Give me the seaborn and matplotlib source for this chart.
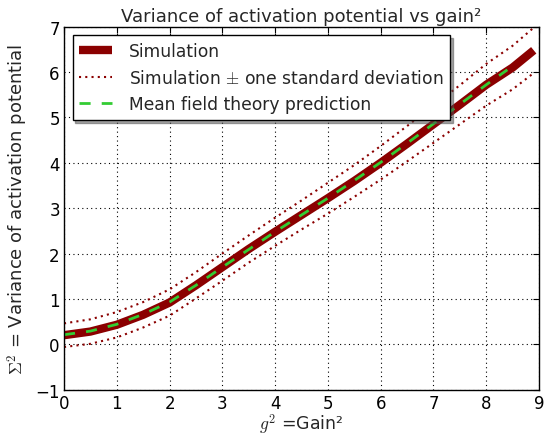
import numpy as np
import pandas as pd
import matplotlib
matplotlib.use("Agg")
import matplotlib.pyplot as plt
import seaborn as sns

# Data
gain2 = [0.0, 0.5, 1.0, 1.5, 2.0, 2.5, 3.0, 3.5, 4.0, 4.5, 5.0, 5.5, 6.0, 6.5, 7.0, 7.5, 8.0, 8.5, 8.9]
sim_var = [0.20, 0.28, 0.43, 0.65, 0.92, 1.30, 1.70, 2.10, 2.48, 2.85, 3.22, 3.60, 4.00, 4.42, 4.85, 5.28, 5.72, 6.10, 6.48]
sim_std = [0.26, 0.27, 0.28, 0.28, 0.29, 0.29, 0.30, 0.30, 0.31, 0.32, 0.34, 0.35, 0.37, 0.39, 0.41, 0.43, 0.46, 0.48, 0.50]
theory_gain2 = [0.0, 0.5, 1.0, 1.5, 2.0, 2.5, 3.0, 3.5, 4.0, 4.5, 5.0, 5.5, 6.0, 6.5, 7.0, 7.5, 8.0, 8.4]
theory_var = [0.21, 0.29, 0.44, 0.66, 0.93, 1.30, 1.70, 2.09, 2.48, 2.85, 3.22, 3.61, 4.01, 4.43, 4.86, 5.29, 5.72, 6.05]

sns.set_theme(style="white")
plt.rcParams.update({
    "font.family": ["DejaVu Sans"],
    "mathtext.fontset": "cm",
    "xtick.direction": "in",
    "ytick.direction": "in",
    "xtick.top": True,
    "ytick.right": True,
    "xtick.color": "black",
    "ytick.color": "black",
    "axes.edgecolor": "black",
    "axes.linewidth": 1.0,
})

fig = plt.figure(figsize=(5.49, 4.35), dpi=100)
ax = fig.add_axes([0.1166, 0.102, 0.8652, 0.8343])

df = pd.DataFrame({"g2": gain2, "sim": sim_var, "std": sim_std})
df["upper"] = df["sim"] + df["std"]
df["lower"] = df["sim"] - df["std"]
dth = pd.DataFrame({"g2": theory_gain2, "theory": theory_var})

darkred = "#8b0000"
sns.lineplot(data=df, x="g2", y="sim", ax=ax, color=darkred, lw=6, label="Simulation",
             solid_capstyle="butt")
sns.lineplot(data=df, x="g2", y="upper", ax=ax, color=darkred, lw=1.5, ls=(0, (1, 2)),
             label=r"Simulation $\pm$ one standard deviation")
sns.lineplot(data=df, x="g2", y="lower", ax=ax, color=darkred, lw=1.5, ls=(0, (1, 2)),
             label="_nolegend_")
sns.lineplot(data=dth, x="g2", y="theory", ax=ax, color="#33cc33", lw=2, ls=(0, (4, 4)),
             label="Mean field theory prediction", dash_capstyle="butt")

ax.set_xlim(0, 9)
ax.set_ylim(-1, 7)
ax.set_xticks(range(0, 10))
ax.set_yticks(range(-1, 8))
ax.grid(True, color="black", ls=(0, (1, 3)), lw=0.8)
ax.tick_params(labelsize=12, pad=3, length=4, width=0.8)
for s in ax.spines.values():
    s.set_color("black")
    s.set_visible(True)

ax.set_title("Variance of activation potential vs gain\u00b2", fontsize=13, pad=4)
ax.set_xlabel(r"$g^2$ =Gain" + "\u00b2", fontsize=12.5, labelpad=0)
ax.set_ylabel(r"$\Sigma^2$ = Variance of activation potential", fontsize=13, labelpad=4)

leg = ax.legend(loc="upper left", fontsize=12.3, frameon=True, fancybox=False, shadow=True,
                borderaxespad=0.5, handlelength=1.9, handletextpad=1.0, framealpha=1)
leg.get_frame().set_edgecolor("black")
leg.get_frame().set_linewidth(1.0)

fig.savefig("out.png", dpi=100)
